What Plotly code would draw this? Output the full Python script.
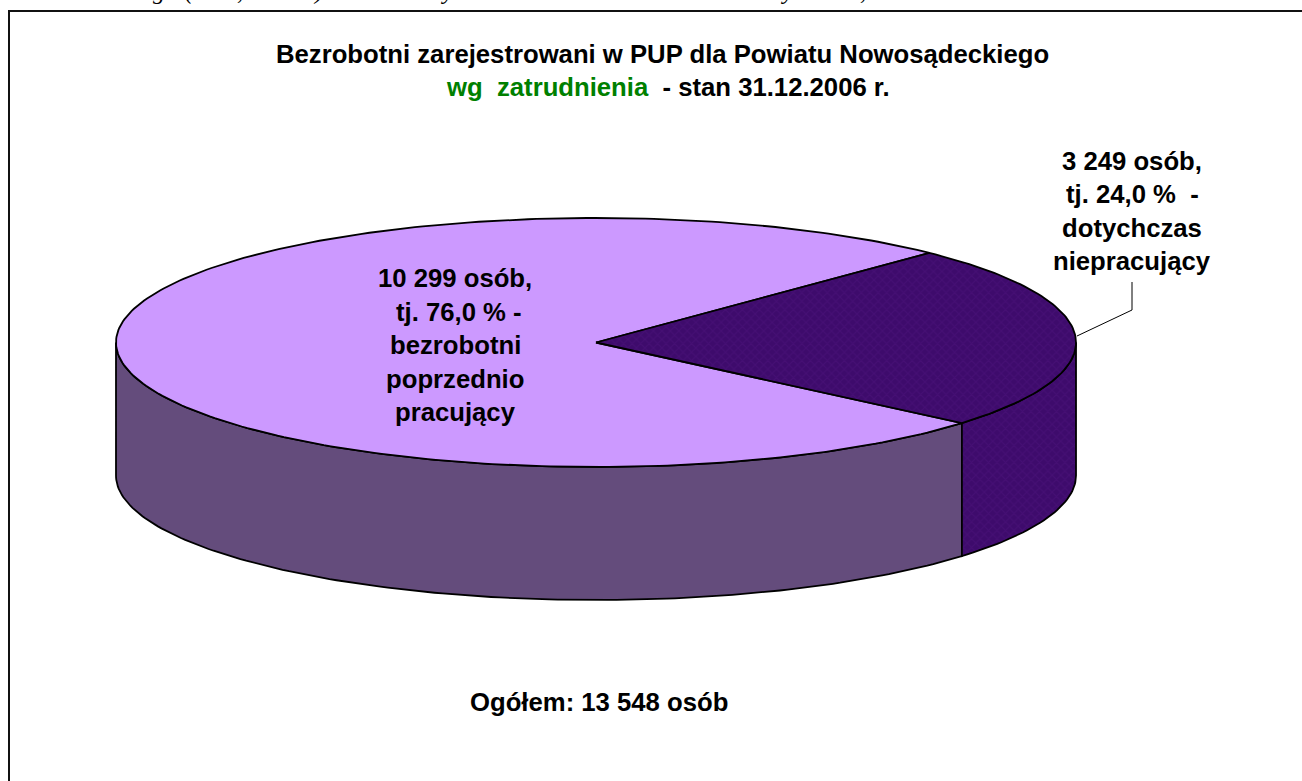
import numpy as np
import plotly.graph_objects as go

# Data
categories = ["bezrobotni poprzednio pracujący", "dotychczas niepracujący"]
values = [10299, 3249]
top_colors = ["#CC99FF", "#3E0B6C"]
side_colors = ["#644C7C", "#3E0B6C"]

title_lines = [
    "Bezrobotni zarejestrowani w PUP dla Powiatu Nowosądeckiego",
    "<span style='color:#008000'>wg\u00a0\u00a0zatrudnienia\u00a0</span>\u00a0- stan 31.12.2006 r.",
]
left_label = ["10 299 osób,", "tj. 76,0 % -", "bezrobotni", "poprzednio", "pracujący"]
right_label = ["3 249 osób,", "tj. 24,0 %\u00a0 -", "dotychczas", "niepracujący"]
total_label = "Ogółem: 13 548 osób"
clipped_glyphs = ["g", "(", ",", ")", "y", "y", ","]
clipped_x = [159, 190, 240, 318, 447, 787, 863]

# Pie geometry (pixels of the page)
W, H = 1302, 781
CX, CY, RX, RY, DEPTH = 596, 342.5, 480, 124.5, 133
START = 46.0  # degrees, where the dark slice begins; it runs clockwise
OUT = "#000000"


def arc(a0, a1, dy=0.0):
    n = max(int(abs(a1 - a0)), 2) + 1
    t = np.radians(np.linspace(a0, a1, n))
    return CX + RX * np.cos(t), CY + dy - RY * np.sin(t)


total = sum(values)
sweep_dark = 360 * values[1] / total
dark_a0, dark_a1 = START, START - sweep_dark          # clockwise
light_a0, light_a1 = dark_a1, START - 360

fig = go.Figure()
line = dict(color=OUT, width=1.8)
pattern = dict(shape="x", size=6, solidity=0.3, fgcolor="#541684", fgopacity=0.35, bgcolor=top_colors[1])


def poly(xs, ys, color, name, pat=None):
    kw = dict(fillpattern=pat) if pat else {}
    fig.add_trace(go.Scatter(
        x=np.append(xs, xs[0]), y=np.append(ys, ys[0]), mode="lines", fill="toself",
        fillcolor=color, line=line, name=name, hoverinfo="skip", showlegend=False, **kw))


# Side walls (only the front half is visible)
x1, y1 = arc(-180, dark_a1)
x2, y2 = arc(dark_a1, -180, DEPTH)
poly(np.r_[x1, x2], np.r_[y1, y2], side_colors[0], categories[0])
x1, y1 = arc(dark_a1, 0)
x2, y2 = arc(0, dark_a1, DEPTH)
poly(np.r_[x1, x2], np.r_[y1, y2], side_colors[1], categories[1], pattern)

# Top faces
x1, y1 = arc(light_a0, light_a1)
poly(np.r_[CX, x1], np.r_[CY, y1], top_colors[0], categories[0])
x1, y1 = arc(dark_a0, dark_a1)
poly(np.r_[CX, x1], np.r_[CY, y1], top_colors[1], categories[1], pattern)

# Leader line
fig.add_trace(go.Scatter(x=[1077, 1132, 1132], y=[336, 310, 282], mode="lines",
                         line=dict(color=OUT, width=1), hoverinfo="skip", showlegend=False))


def text(s, x, y, size=25.7):
    fig.add_annotation(x=x, y=y, text=s, showarrow=False, xanchor="center", yanchor="middle",
                       font=dict(family="Liberation Sans", size=size, color="#000000"))


text("<b>" + title_lines[0] + "</b>", 662, 54)
text("<b>" + title_lines[1] + "</b>", 668, 87)
for i, s in enumerate(left_label):
    text("<b>" + s + "</b>", 459 if i == 1 else 455, 278 + i * 33.6)
for i, s in enumerate(right_label):
    text("<b>" + s + "</b>", 1132, 161 + i * 33.4)
text("<b>" + total_label + "</b>", 599, 702)

# Clipped line of body text at the very top of the page
for g, x in zip(clipped_glyphs, clipped_x):
    fig.add_annotation(x=x, y=6, text="<i>" + g + "</i>", showarrow=False, xanchor="center", yanchor="bottom",
                       font=dict(family="Liberation Serif", size=24, color="#000000"))

# Frame: open on the right and at the bottom
fig.add_trace(go.Scatter(x=[9, 9, W], y=[H, 11, 11], mode="lines",
                         line=dict(color="#111111", width=2), hoverinfo="skip", showlegend=False))

fig.update_layout(
    width=W, height=H, margin=dict(l=0, r=0, t=0, b=0), paper_bgcolor="white", plot_bgcolor="white",
    showlegend=False,
    xaxis=dict(range=[0, W], visible=False, fixedrange=True),
    yaxis=dict(range=[H, 0], visible=False, fixedrange=True),
)
fig.write_html("out.html", config={"displayModeBar": False},
               post_script="document.body.style.margin='0';document.body.style.overflow='hidden';")
